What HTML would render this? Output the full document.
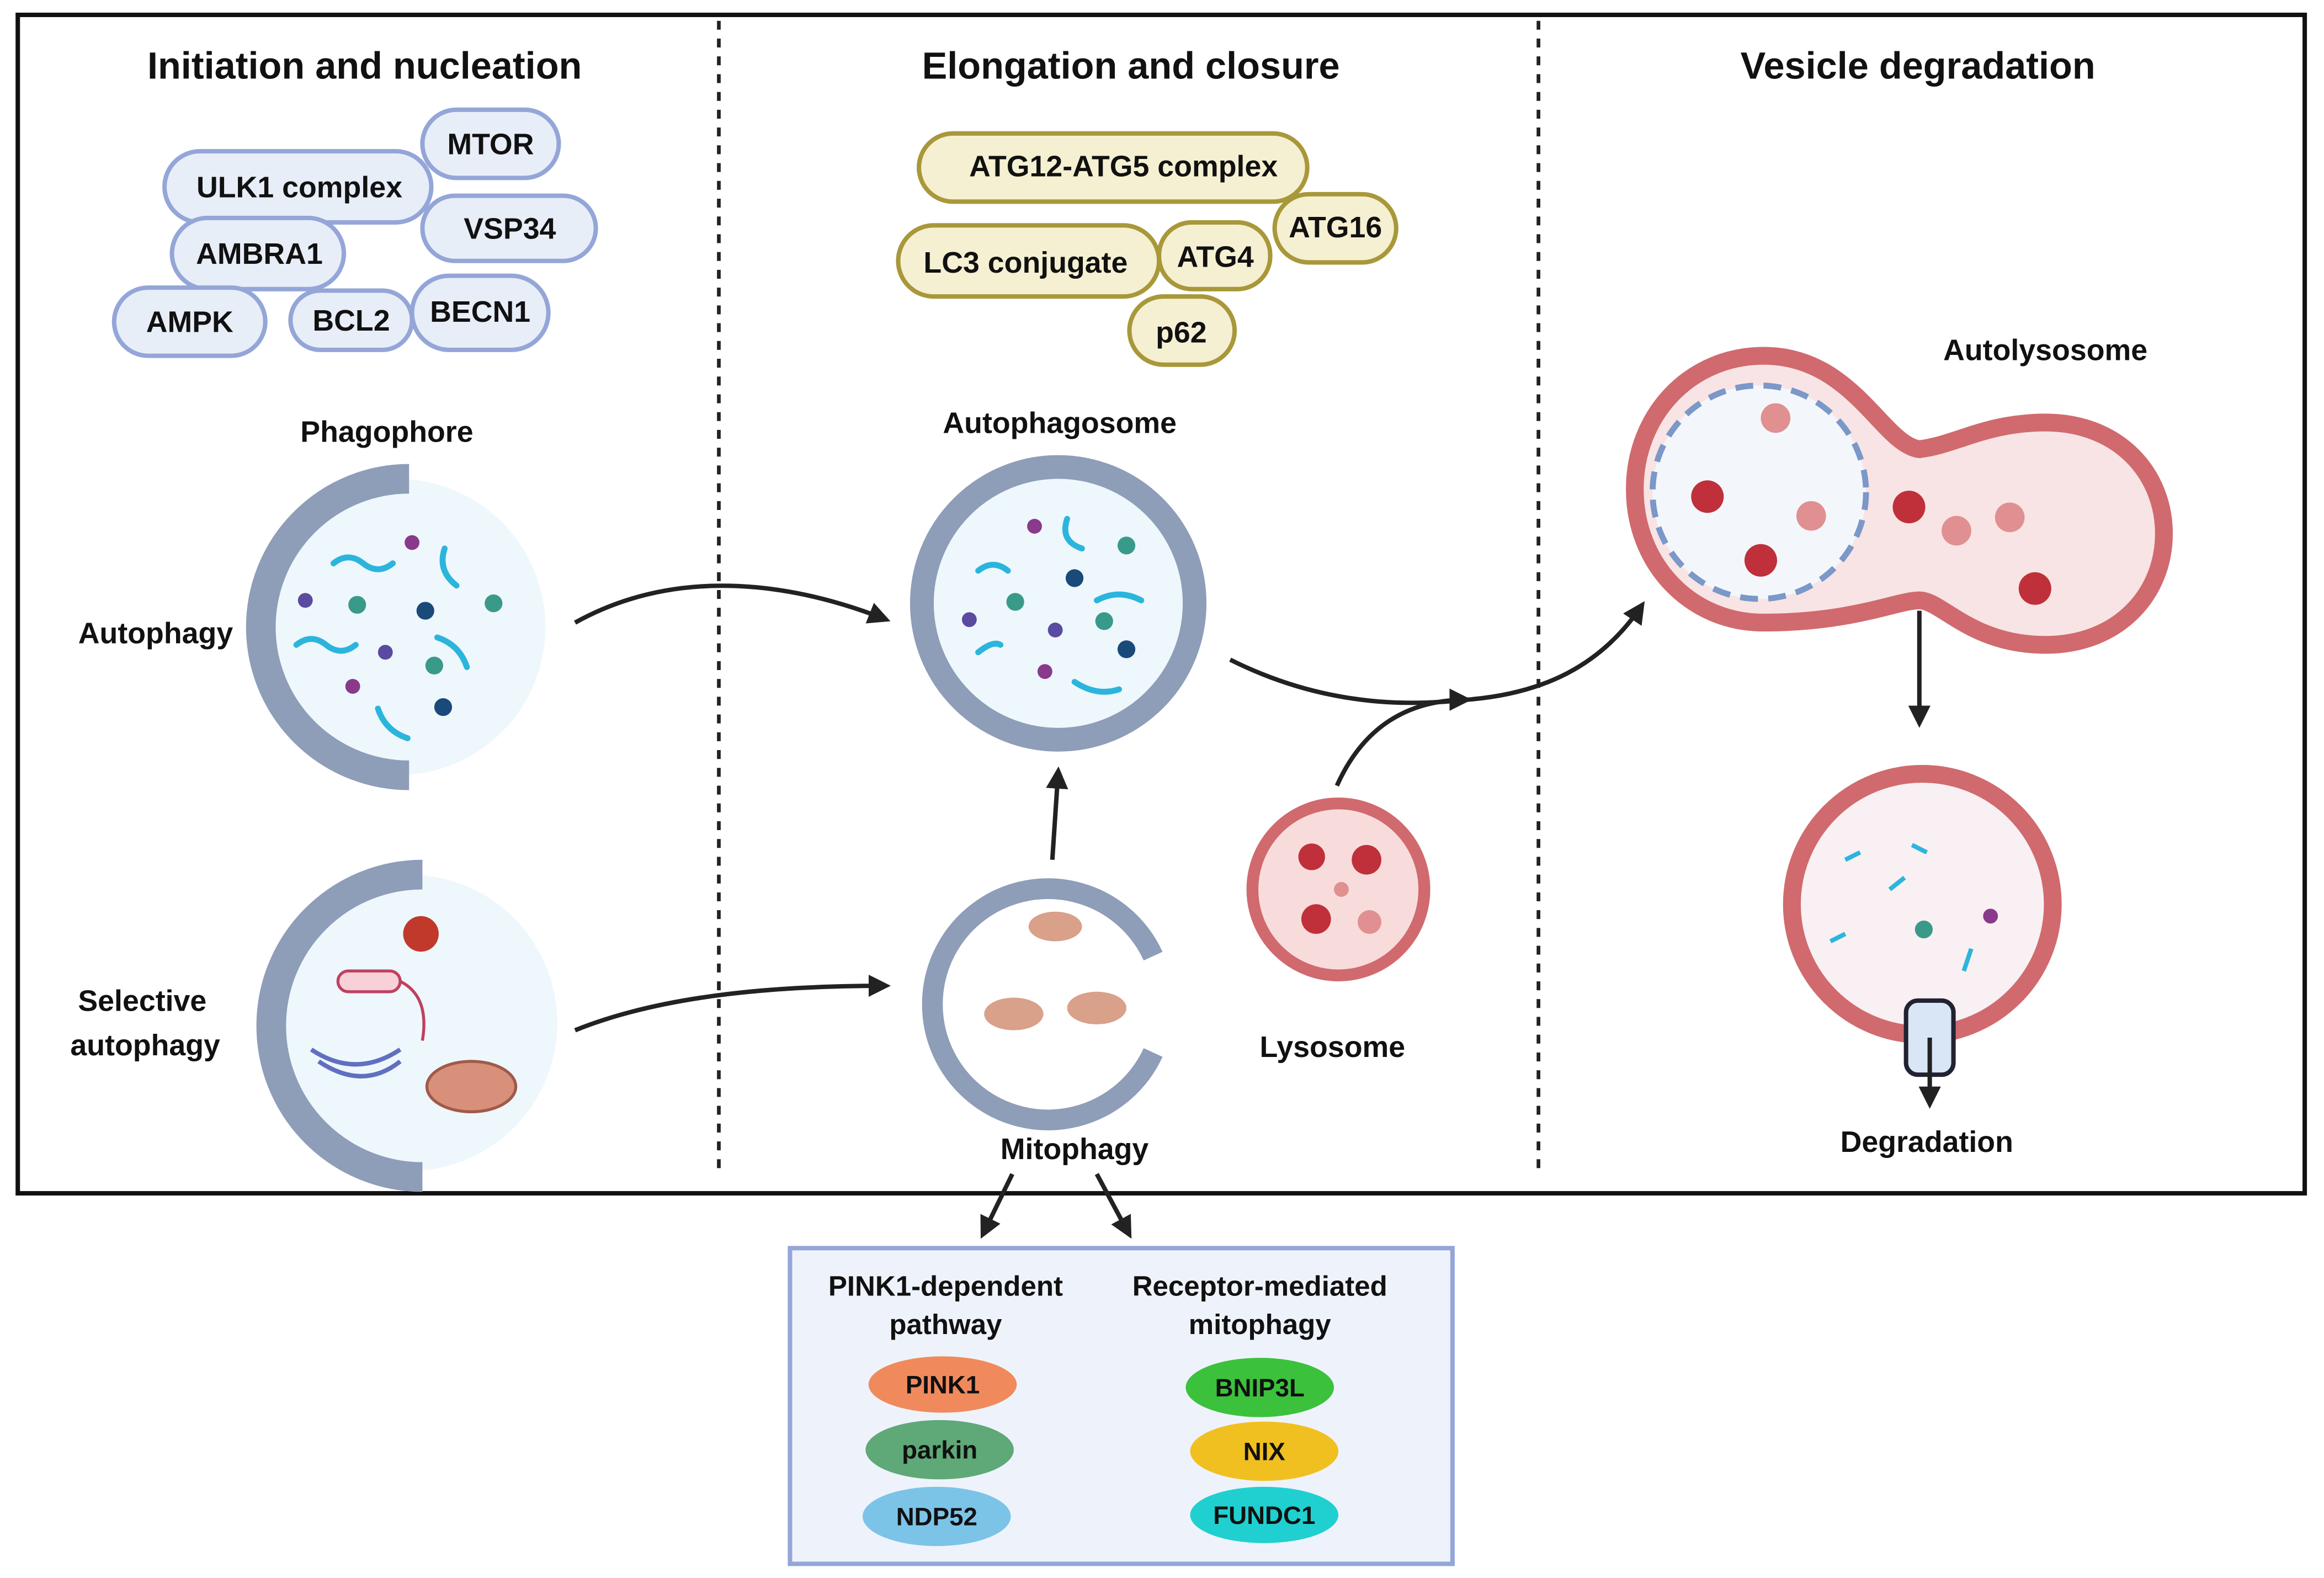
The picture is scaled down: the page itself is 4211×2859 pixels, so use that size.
<!DOCTYPE html>
<html><head><meta charset="utf-8"><style>html,body{margin:0;padding:0;background:#fff}svg{display:block}text{font-family:"Liberation Sans",sans-serif;font-weight:bold;fill:#111}</style></head><body>
<svg width="4211" height="2859" viewBox="0 0 1568 1064.5" xmlns="http://www.w3.org/2000/svg">
<defs>
<marker id="ah" viewBox="0 0 10 10" refX="8" refY="5" markerWidth="5" markerHeight="5" orient="auto"><path d="M0,0L10,5L0,10z" fill="#222"/></marker>
</defs>
<rect x="12" y="10" width="1543" height="795" fill="#fff" stroke="#111" stroke-width="3"/>
<line x1="485" y1="14" x2="485" y2="790" stroke="#222" stroke-width="2.5" stroke-dasharray="6,6"/>
<line x1="1038" y1="14" x2="1038" y2="790" stroke="#222" stroke-width="2.5" stroke-dasharray="6,6"/>
<g font-size="25.5" text-anchor="middle">
<text x="246" y="53">Initiation and nucleation</text>
<text x="763" y="53">Elongation and closure</text>
<text x="1294" y="53">Vesicle degradation</text>
</g>
<g fill="#e8eef8" stroke="#94a6d8" stroke-width="3">
<rect x="285" y="74" width="92" height="46" rx="23"/>
<rect x="111" y="102" width="180" height="48" rx="24"/>
<rect x="285" y="132" width="117" height="44" rx="22"/>
<rect x="116" y="147" width="116" height="48" rx="24"/>
<rect x="77" y="194" width="102" height="46" rx="23"/>
<rect x="196" y="196" width="82" height="40" rx="20"/>
<rect x="278" y="186" width="92" height="50" rx="25"/>
</g>
<g font-size="20" text-anchor="middle">
<text x="331" y="104">MTOR</text>
<text x="202" y="133">ULK1 complex</text>
<text x="344" y="161">VSP34</text>
<text x="175" y="178">AMBRA1</text>
<text x="128" y="224">AMPK</text>
<text x="237" y="223">BCL2</text>
<text x="324" y="217">BECN1</text>
</g>
<g fill="#f5f0d2" stroke="#a8983a" stroke-width="3">
<rect x="620" y="90" width="262" height="46" rx="23"/>
<rect x="860" y="131" width="82" height="46" rx="23"/>
<rect x="606" y="152" width="176" height="48" rx="24"/>
<rect x="782" y="150" width="75" height="45" rx="22"/>
<rect x="762" y="200" width="71" height="46" rx="23"/>
</g>
<g font-size="20" text-anchor="middle">
<text x="758" y="119">ATG12-ATG5 complex</text>
<text x="901" y="160">ATG16</text>
<text x="692" y="184">LC3 conjugate</text>
<text x="820" y="180">ATG4</text>
<text x="797" y="231">p62</text>
</g>
<g font-size="20" text-anchor="middle">
<text x="261" y="298">Phagophore</text>
<text x="105" y="434">Autophagy</text>
<text x="96" y="682">Selective</text>
<text x="98" y="712">autophagy</text>
<text x="715" y="292">Autophagosome</text>
<text x="725" y="782">Mitophagy</text>
<text x="899" y="713">Lysosome</text>
<text x="1380" y="243">Autolysosome</text>
<text x="1300" y="777">Degradation</text>
</g>
<circle cx="268" cy="423" r="100" fill="#eef7fc"/>
<path d="M276,323 A100,100 0 0 0 276,523" fill="none" stroke="#8e9db8" stroke-width="20"/>
<g stroke="#2bb5dc" stroke-width="4" fill="none" stroke-linecap="round">
<path d="M225,380 q10,-8 20,0 t20,0"/><path d="M300,370 q-5,15 8,25"/><path d="M200,435 q10,-8 20,0 t20,0"/><path d="M295,430 q15,5 20,20"/><path d="M255,478 q5,15 20,20"/>
</g>
<g><circle cx="241" cy="408" r="6" fill="#3a9a8a"/><circle cx="287" cy="412" r="6" fill="#1a4a7a"/><circle cx="333" cy="407" r="6" fill="#3a9a8a"/><circle cx="293" cy="449" r="6" fill="#3a9a8a"/><circle cx="299" cy="477" r="6" fill="#1a4a7a"/>
<circle cx="206" cy="405" r="5" fill="#5a4aa0"/><circle cx="278" cy="366" r="5" fill="#8a3a8a"/><circle cx="260" cy="440" r="5" fill="#5a4aa0"/><circle cx="238" cy="463" r="5" fill="#8a3a8a"/></g>
<circle cx="276" cy="690" r="100" fill="#eef7fc"/>
<path d="M285,590 A102,102 0 0 0 285,794" fill="none" stroke="#8e9db8" stroke-width="20"/>
<circle cx="284" cy="630" r="12" fill="#c0392b"/>
<rect x="228" y="655" width="42" height="14" rx="7" fill="#f7d0d8" stroke="#c04060" stroke-width="2"/>
<path d="M270,662 q20,10 15,40" stroke="#c04060" fill="none" stroke-width="2"/>
<path d="M210,708 q30,20 60,0 M215,716 q30,20 55,0" stroke="#6070c0" fill="none" stroke-width="3"/>
<ellipse cx="318" cy="733" rx="30" ry="17" fill="#d9907a" stroke="#a05a4a" stroke-width="2"/>
<circle cx="714" cy="407" r="92" fill="#eef7fc" stroke="#8e9db8" stroke-width="16"/>
<g stroke="#2bb5dc" stroke-width="4" fill="none" stroke-linecap="round">
<path d="M720,350 q-5,15 10,20"/><path d="M660,385 q10,-8 20,0"/><path d="M740,405 q15,-8 30,0"/><path d="M660,440 q10,-8 15,-5"/><path d="M725,460 q15,10 30,5"/>
</g>
<circle cx="685" cy="406" r="6" fill="#3a9a8a"/><circle cx="725" cy="390" r="6" fill="#1a4a7a"/><circle cx="760" cy="368" r="6" fill="#3a9a8a"/><circle cx="745" cy="419" r="6" fill="#3a9a8a"/><circle cx="760" cy="438" r="6" fill="#1a4a7a"/>
<circle cx="698" cy="355" r="5" fill="#8a3a8a"/><circle cx="654" cy="418" r="5" fill="#5a4aa0"/><circle cx="712" cy="425" r="5" fill="#5a4aa0"/><circle cx="705" cy="453" r="5" fill="#8a3a8a"/>
<path d="M778,645 A78,78 0 1 0 778,710" fill="none" stroke="#8e9db8" stroke-width="14"/>
<ellipse cx="712" cy="625" rx="18" ry="10" fill="#d9a08a"/><ellipse cx="684" cy="684" rx="20" ry="11" fill="#d9a08a"/><ellipse cx="740" cy="680" rx="20" ry="11" fill="#d9a08a"/>
<circle cx="903" cy="600" r="58" fill="#f8dcdc" stroke="#d06a6e" stroke-width="8"/>
<circle cx="885" cy="578" r="9" fill="#c0303a"/><circle cx="922" cy="580" r="10" fill="#c0303a"/><circle cx="888" cy="620" r="10" fill="#c0303a"/><circle cx="924" cy="622" r="8" fill="#e09090"/><circle cx="905" cy="600" r="5" fill="#e09090"/>
<path d="M1190,240 C1250,240 1270,300 1295,303 C1320,300 1340,285 1380,285 C1430,285 1460,320 1460,360 C1460,400 1430,435 1380,435 C1330,435 1310,405 1295,405 C1280,405 1250,420 1190,420 C1140,420 1103,380 1103,330 C1103,280 1140,240 1190,240 Z" fill="#f8e4e4" stroke="#d06a6e" stroke-width="12"/>
<circle cx="1187" cy="332" r="72" fill="#f3f7fc" stroke="#7a98c8" stroke-width="4" stroke-dasharray="12,7"/>
<g fill="#c0303a"><circle cx="1152" cy="335" r="11"/><circle cx="1188" cy="378" r="11"/><circle cx="1288" cy="342" r="11"/><circle cx="1373" cy="397" r="11"/></g>
<g fill="#e09090"><circle cx="1198" cy="282" r="10"/><circle cx="1222" cy="348" r="10"/><circle cx="1320" cy="358" r="10"/><circle cx="1356" cy="349" r="10"/></g>
<circle cx="1297" cy="610" r="88" fill="#f8f0f3" stroke="#d06a6e" stroke-width="12"/>
<g stroke="#2bb5dc" stroke-width="3"><line x1="1245" y1="580" x2="1255" y2="575"/><line x1="1290" y1="570" x2="1300" y2="575"/><line x1="1235" y1="635" x2="1245" y2="630"/><line x1="1330" y1="640" x2="1325" y2="655"/><line x1="1275" y1="600" x2="1285" y2="592"/></g>
<circle cx="1298" cy="627" r="6" fill="#3a9a8a"/><circle cx="1343" cy="618" r="5" fill="#8a3a8a"/>
<rect x="1286" y="675" width="32" height="50" rx="8" fill="#d8e6f6" stroke="#223" stroke-width="3"/>
<g fill="none" stroke="#222" stroke-width="3" marker-end="url(#ah)">
<path d="M388,420 C460,380 540,395 598,418"/>
<path d="M388,695 C450,670 530,665 598,665"/>
<path d="M710,580 L714,520"/>
<path d="M830,445 C900,480 960,475 990,472 C1040,468 1080,450 1108,408"/>
<path d="M902,530 C920,490 950,472 990,472"/>
<path d="M1295,412 L1295,488"/>
<path d="M1302,700 L1302,745"/>
<path d="M683,792 L663,833"/>
<path d="M740,792 L762,833"/>
</g>
<rect x="533" y="842" width="447" height="213" fill="#eef3fb" stroke="#94a6d8" stroke-width="3"/>
<g font-size="19" text-anchor="middle">
<text x="638" y="874">PINK1-dependent</text><text x="638" y="900">pathway</text>
<text x="850" y="874">Receptor-mediated</text><text x="850" y="900">mitophagy</text>
</g>
<ellipse cx="636" cy="934" rx="50" ry="19" fill="#f08a5d"/>
<ellipse cx="634" cy="978" rx="50" ry="20" fill="#5fa878"/>
<ellipse cx="632" cy="1023" rx="50" ry="20" fill="#7cc3e8"/>
<ellipse cx="850" cy="936" rx="50" ry="20" fill="#3cc13c"/>
<ellipse cx="853" cy="979" rx="50" ry="20" fill="#f0c020"/>
<ellipse cx="853" cy="1022" rx="50" ry="19" fill="#20d0d0"/>
<g font-size="17" text-anchor="middle">
<text x="636" y="940">PINK1</text><text x="634" y="984">parkin</text><text x="632" y="1029">NDP52</text>
<text x="850" y="942">BNIP3L</text><text x="853" y="985">NIX</text><text x="853" y="1028">FUNDC1</text>
</g>
</svg>
</body></html>
